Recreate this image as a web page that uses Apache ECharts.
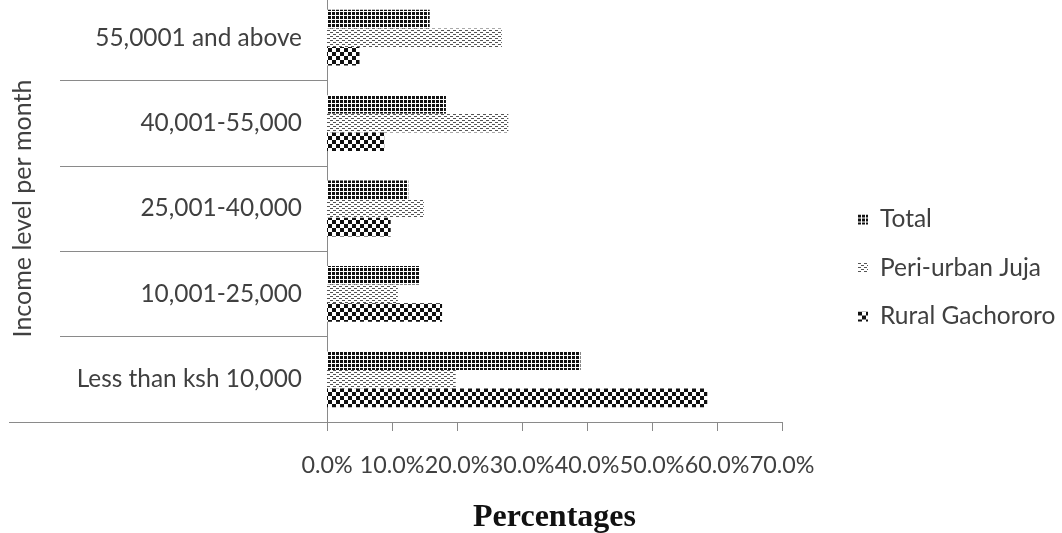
<!DOCTYPE html>
<html>
<head>
<meta charset="utf-8">
<script src="https://cdn.jsdelivr.net/npm/echarts@6/dist/echarts.min.js"></script>
<style>
  html, body { margin: 0; padding: 0; background: #fff; }
  #chart { width: 1062px; height: 533px; }
</style>
</head>
<body>
<div id="chart"></div>
<script>
// Income bands, listed from the bottom of the axis to the top
const categories = [
  'Less than ksh 10,000',
  '10,001-25,000',
  '25,001-40,000',
  '40,001-55,000',
  '55,0001 and above'
];

// Share of households in each band (%)
const totalValues = [39.0, 14.3, 12.5, 18.3, 15.8];
const periUrbanValues = [19.8, 10.9, 14.9, 27.9, 26.9];
const ruralValues = [58.5, 17.7, 9.8, 8.8, 5.0];

const seriesNames = ['Total', 'Peri-urban Juja', 'Rural Gachororo'];

// Percentage axis ticks
const xMin = 0;
const xMax = 70;
const xStep = 10;

// Monochrome fill patterns for the bars
function tile(w, h, paint) {
  const c = document.createElement('canvas');
  c.width = w; c.height = h;
  const g = c.getContext('2d');
  g.fillStyle = '#ffffff';
  g.fillRect(0, 0, w, h);
  paint(g);
  return c;
}
const gridFill = tile(4, 4, g => {
  g.fillStyle = '#111111';
  g.fillRect(0, 0, 3, 3);
});
const dashFill = tile(6, 4, g => {
  g.fillStyle = '#555555';
  g.fillRect(0, 0, 3, 1);
  g.fillRect(3, 2, 3, 1);
});
const checkFill = tile(8, 8, g => {
  g.fillStyle = '#111111';
  g.fillRect(0, 0, 4, 4);
  g.fillRect(4, 4, 4, 4);
});
const fills = [gridFill, dashFill, checkFill];
const values = [totalValues, periUrbanValues, ruralValues];

const textColor = '#404040';
const lineColor = '#8a8a8a';
const sansFont = 'Lato';

const chart = echarts.init(document.getElementById('chart'), null, { renderer: 'canvas' });

chart.setOption({
  animation: false,
  backgroundColor: '#ffffff',
  grid: {
    left: 327, right: 280, top: -5, bottom: 111,
    containLabel: false,
    outerBoundsMode: 'none'
  },
  legend: {
    orient: 'vertical',
    left: 853,
    top: 202,
    itemWidth: 10,
    itemHeight: 10,
    itemGap: 23.5,
    icon: 'rect',
    data: seriesNames,
    textStyle: { fontFamily: sansFont, fontSize: 24.5, color: textColor, padding: [0, 0, 0, 7] }
  },
  xAxis: {
    type: 'value',
    min: xMin,
    max: xMax,
    interval: xStep,
    name: 'Percentages',
    nameLocation: 'middle',
    nameGap: 80,
    nameTextStyle: { fontFamily: 'Liberation Serif', fontWeight: 'bold', fontSize: 32, color: '#111111' },
    axisLine: { show: true, lineStyle: { color: lineColor, width: 1 } },
    axisTick: { show: true, length: 9, lineStyle: { color: lineColor } },
    splitLine: { show: false },
    axisLabel: {
      margin: 32,
      showMinLabel: true,
      showMaxLabel: true,
      hideOverlap: false,
      fontFamily: sansFont,
      fontSize: 23.3,
      color: textColor,
      formatter: v => v.toFixed(1) + '%'
    }
  },
  yAxis: {
    type: 'category',
    data: categories,
    name: 'Income level per month',
    nameLocation: 'middle',
    nameRotate: 90,
    nameGap: 292,
    nameTextStyle: { fontFamily: sansFont, fontSize: 25, color: textColor },
    axisLine: { show: true, lineStyle: { color: lineColor, width: 1 } },
    axisTick: { show: true, length: 267, lineStyle: { color: lineColor } },
    axisLabel: { margin: 25, fontFamily: sansFont, fontSize: 24.4, color: textColor }
  },
  series: seriesNames.map((name, i) => ({
    name: name,
    type: 'bar',
    data: values[i],
    barWidth: 18.6,
    barGap: '0%',
    itemStyle: { color: { image: fills[i], repeat: 'repeat' } }
  }))
});

// The frame line under the lowest band runs further out to the left
const grid = chart.getModel().getComponent('grid').coordinateSystem.getRect();
chart.setOption({
  graphic: [{
    type: 'line',
    shape: { x1: 9, y1: grid.y + grid.height + 0.5, x2: grid.x, y2: grid.y + grid.height + 0.5 },
    style: { stroke: lineColor, lineWidth: 1 },
    silent: true
  }]
});
</script>
</body>
</html>
